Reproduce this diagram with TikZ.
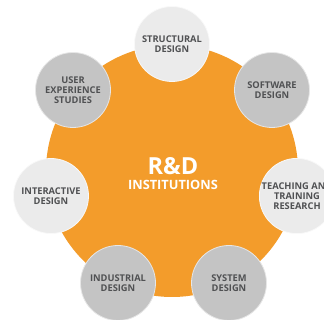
\documentclass[tikz,border=0pt]{standalone}
\usepackage{fontspec}
\setmainfont{Open Sans}
\definecolor{rdorange}{HTML}{F39C2B}
\definecolor{lightc}{HTML}{EBEBEB}
\definecolor{darkc}{HTML}{C4C4C4}
\definecolor{txtc}{HTML}{505153}
\tikzset{
  hub/.style={circle, fill=rdorange, minimum size=252pt, inner sep=0pt},
  satlight/.style={circle, fill=lightc, draw=white!70!lightc, line width=0.8pt, minimum size=75pt, inner sep=0pt, align=center, text=txtc, font=\bfseries\fontsize{9.3}{10}\selectfont},
  satdark/.style={circle, fill=darkc, draw=white!60!darkc, line width=0.8pt, minimum size=75pt, inner sep=0pt, align=center, text=txtc, font=\bfseries\fontsize{9.3}{10}\selectfont},
}
\begin{document}
\begin{tikzpicture}[x=1pt,y=-1pt]
\useasboundingbox (0,0) rectangle (324,320);
\clip (0,0) rectangle (324,320);
\node[hub] (hub) at (172,171) {};
\node[satlight] (s1) at (172,44) {STRUCTURAL\\DESIGN};
\node[satdark]  (s2) at (272,90) {SOFTWARE\\DESIGN};
\node[satlight] (s3) at (297,196) {TEACHING AND\\TRAINING\\RESEARCH};
\node[satdark]  (s4) at (229,283) {SYSTEM\\DESIGN};
\node[satdark]  (s5) at (118,283) {INDUSTRIAL\\DESIGN};
\node[satlight] (s6) at (51,196) {INTERACTIVE\\DESIGN};
\node[satdark]  (s7) at (73,90) {USER\\EXPERIENCE\\STUDIES};
\node[text=white, font=\bfseries\fontsize{23.5}{25}\selectfont] (rd) at (173,166) {R\&D};
\node[text=white, font=\bfseries\fontsize{12.8}{13}\selectfont] (inst) at (173,185) {INSTITUTIONS};
\end{tikzpicture}
\end{document}
